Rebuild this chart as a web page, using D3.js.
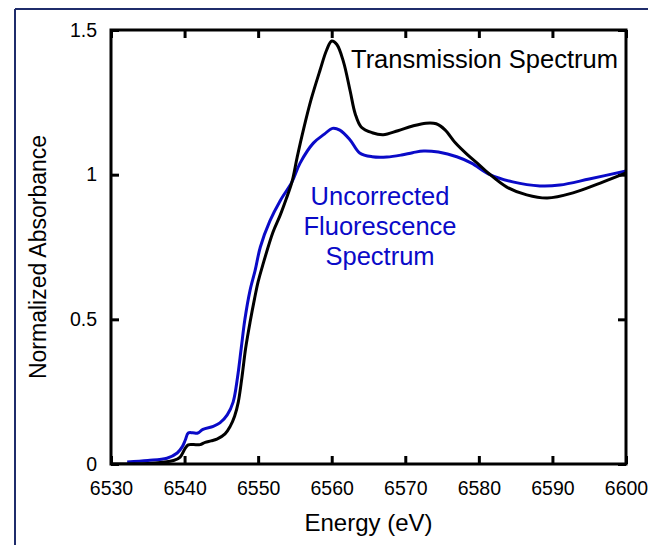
<!DOCTYPE html>
<html>
<head>
<meta charset="utf-8">
<script src="https://cdn.jsdelivr.net/npm/d3@7"></script>
<style>
  html, body { margin: 0; padding: 0; background: #fff; }
  svg { display: block; font-family: Arial, "Liberation Sans", sans-serif; }
</style>
</head>
<body>
<svg id="chart" width="648" height="545"></svg>
<script>
// Fe K-edge XANES: transmission vs. uncorrected fluorescence
const transEnergy = [6530, 6535, 6537, 6538.5, 6539.4, 6540.1, 6540.5, 6541.2, 6542.1, 6542.8, 6543.6, 6544.4, 6545.5, 6546.2, 6546.8, 6547.3, 6547.8, 6548.3, 6548.9, 6549.5, 6550.0, 6550.6, 6552.0, 6553.0, 6553.8, 6554.6, 6555.3, 6556.2, 6557.2, 6558.4, 6559.3, 6560.0, 6560.7, 6561.6, 6562.5, 6563.2, 6564.0, 6565.5, 6567.0, 6569.0, 6571.0, 6572.8, 6574.2, 6575.4, 6576.8, 6578.4, 6580.0, 6581.3, 6583.8, 6586.5, 6589.3, 6592.8, 6596.5, 6600];
const transValue  = [0.0, 0.002, 0.006, 0.012, 0.024, 0.055, 0.066, 0.067, 0.067, 0.075, 0.08, 0.086, 0.104, 0.13, 0.165, 0.214, 0.3, 0.4, 0.49, 0.57, 0.63, 0.685, 0.8, 0.86, 0.915, 0.975, 1.06, 1.16, 1.26, 1.36, 1.43, 1.462, 1.45, 1.39, 1.29, 1.21, 1.165, 1.145, 1.138, 1.152, 1.168, 1.178, 1.176, 1.155, 1.11, 1.07, 1.035, 1.005, 0.957, 0.93, 0.919, 0.937, 0.971, 1.006];

const fluorEnergy = [6532.2, 6535, 6537.6, 6539.0, 6539.7, 6540.1, 6540.5, 6541.1, 6541.8, 6542.5, 6543.9, 6544.8, 6545.8, 6546.6, 6547.2, 6547.7, 6548.2, 6548.9, 6549.6, 6550.3, 6551.6, 6553.0, 6554.6, 6555.7, 6557.5, 6559.0, 6560.1, 6561.1, 6562.5, 6563.8, 6565.5, 6567.5, 6569.5, 6571.0, 6572.5, 6574.5, 6577.0, 6579.0, 6581.5, 6584.6, 6588.3, 6591.0, 6595.0, 6600];
const fluorValue  = [0.007, 0.012, 0.02, 0.038, 0.06, 0.083, 0.107, 0.108, 0.107, 0.12, 0.13, 0.142, 0.17, 0.214, 0.3, 0.4, 0.5, 0.6, 0.67, 0.75, 0.84, 0.91, 0.975, 1.04, 1.109, 1.14, 1.16, 1.154, 1.12, 1.075, 1.062, 1.061, 1.068, 1.076, 1.082, 1.078, 1.062, 1.04, 1.0, 0.975, 0.961, 0.964, 0.985, 1.013];

const xTicks = [6530, 6540, 6550, 6560, 6570, 6580, 6590, 6600];
const yTicks = [0, 0.5, 1, 1.5];
const yTickLabels = ["0", "0.5", "1", "1.5"];

const transLabel = "Transmission Spectrum";
const fluorLabel = ["Uncorrected", "Fluorescence", "Spectrum"];

const svg = d3.select("#chart");
const plot = { left: 111, right: 626, top: 30, bottom: 464 };
const blue = "#0a0ac8";

// page frame (top and left rules)
svg.append("line").attr("x1", 15).attr("y1", 9).attr("x2", 648).attr("y2", 9)
  .attr("stroke", "#1f2c6b").attr("stroke-width", 2);
svg.append("line").attr("x1", 15).attr("y1", 9).attr("x2", 15).attr("y2", 545)
  .attr("stroke", "#1f2c6b").attr("stroke-width", 2);

const x = d3.scaleLinear().domain([6530, 6600]).range([plot.left, plot.right]);
const y = d3.scaleLinear().domain([0, 1.5]).range([plot.bottom, plot.top]);

const tickLen = 8;
const axisW = 3;

// inward ticks on all four sides
const g = svg.append("g");
const bottomAxis = d3.axisBottom(x).tickValues(xTicks).tickSize(-tickLen).tickPadding(17)
  .tickFormat(d3.format("d"));
const topAxis = d3.axisTop(x).tickValues(xTicks).tickSize(-tickLen).tickFormat("");
const leftAxis = d3.axisLeft(y).tickValues(yTicks).tickSize(-tickLen).tickPadding(14)
  .tickFormat((d, i) => yTickLabels[i]);
const rightAxis = d3.axisRight(y).tickValues(yTicks).tickSize(-tickLen).tickFormat("");

function styleAxis(sel) {
  sel.select(".domain").remove();
  sel.selectAll(".tick line").attr("stroke", "#000").attr("stroke-width", axisW);
  sel.selectAll(".tick text").attr("fill", "#000").attr("font-size", 19.5)
    .attr("font-family", "Arial, 'Liberation Sans', sans-serif");
}
g.append("g").attr("transform", `translate(0,${plot.bottom})`).call(bottomAxis).call(styleAxis);
g.append("g").attr("transform", `translate(0,${plot.top})`).call(topAxis).call(styleAxis);
g.append("g").attr("transform", `translate(${plot.left},0)`).call(leftAxis).call(styleAxis);
g.append("g").attr("transform", `translate(${plot.right},0)`).call(rightAxis).call(styleAxis);

// spectra
const line = d3.line().x(d => x(d[0])).y(d => y(d[1])).curve(d3.curveCatmullRom.alpha(0.5));
svg.append("clipPath").attr("id", "plotclip").append("rect")
  .attr("x", plot.left).attr("y", plot.top - 2)
  .attr("width", plot.right - plot.left).attr("height", plot.bottom - plot.top + 2);

svg.append("path").datum(d3.zip(fluorEnergy, fluorValue))
  .attr("d", line).attr("fill", "none").attr("stroke", blue).attr("stroke-width", 3)
  .attr("clip-path", "url(#plotclip)");
svg.append("path").datum(d3.zip(transEnergy, transValue))
  .attr("d", line).attr("fill", "none").attr("stroke", "#000").attr("stroke-width", 3)
  .attr("clip-path", "url(#plotclip)");

// plot frame
svg.append("rect").attr("x", plot.left).attr("y", plot.top)
  .attr("width", plot.right - plot.left).attr("height", plot.bottom - plot.top)
  .attr("fill", "none").attr("stroke", "#000").attr("stroke-width", axisW);

// series labels
svg.append("text").attr("x", 351).attr("y", 68).attr("font-size", 25.5).attr("fill", "#000")
  .text(transLabel);
svg.append("text").attr("x", 380).attr("y", 205).attr("font-size", 25.5).attr("fill", blue)
  .attr("text-anchor", "middle")
  .selectAll("tspan").data(fluorLabel).join("tspan")
  .attr("x", 380).attr("dy", (d, i) => i === 0 ? 0 : 30).text(d => d);

// axis titles
svg.append("text").attr("x", (plot.left + plot.right) / 2).attr("y", 531)
  .attr("text-anchor", "middle").attr("font-size", 24).attr("fill", "#000").text("Energy (eV)");
svg.append("text").attr("transform", `translate(46,${(plot.top + plot.bottom) / 2 + 10}) rotate(-90)`)
  .attr("text-anchor", "middle").attr("font-size", 23).attr("fill", "#000").text("Normalized Absorbance");
</script>
</body>
</html>
